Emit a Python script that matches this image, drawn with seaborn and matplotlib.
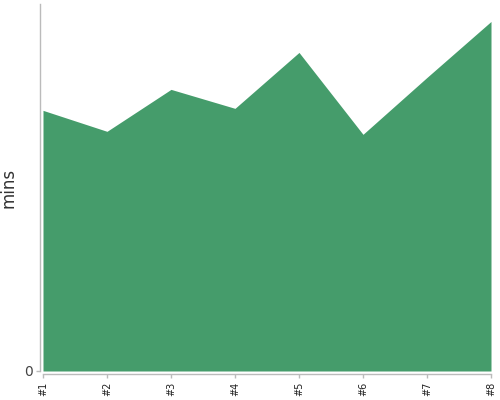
import matplotlib
matplotlib.use("Agg")
import matplotlib.pyplot as plt
import seaborn as sns
import pandas as pd

# Données
labels = ["#1", "#2", "#3", "#4", "#5", "#6", "#7", "#8"]
mins = [26.1, 24.0, 28.2, 26.3, 31.9, 23.7, 29.4, 35.0]

df = pd.DataFrame({"run": range(len(labels)), "mins": mins})

sns.set_style("white")
plt.rcParams["font.family"] = ["DejaVu Sans"]

fig = plt.figure(figsize=(5, 4), dpi=100)
ax = fig.add_axes([0.086, 0.0725, 0.896, 0.9175])

green = "#459c6b"
sns.lineplot(data=df, x="run", y="mins", color=green, linewidth=0, ax=ax)
ax.fill_between(df["run"], 0, df["mins"], color=green, linewidth=0)

# despine avec offset réinitialise les ticks : à faire en premier
sns.despine(ax=ax, offset=2.5)
for side in ["left", "bottom"]:
    ax.spines[side].set_color("#bbbbbb")
    ax.spines[side].set_linewidth(1)

ax.set_xlim(0, len(labels) - 1)
ax.set_ylim(0, max(mins) * 1.05)
ax.set_xticks(range(len(labels)))
ax.set_xticklabels(labels, rotation=90, fontsize=7, color="#222222")
ax.set_yticks([0])
ax.set_yticklabels(["0"], fontsize=10, color="#444444")
ax.set_xlabel("")
ax.set_ylabel("mins", fontsize=12, color="#333333")
ax.yaxis.set_label_coords(-0.057, 0.5)

ax.tick_params(axis="x", length=3, width=1, color="#bbbbbb", pad=2, bottom=True)
ax.tick_params(axis="y", length=3, width=1, color="#bbbbbb", pad=2, left=True)

fig.savefig("out.png", dpi=100)
